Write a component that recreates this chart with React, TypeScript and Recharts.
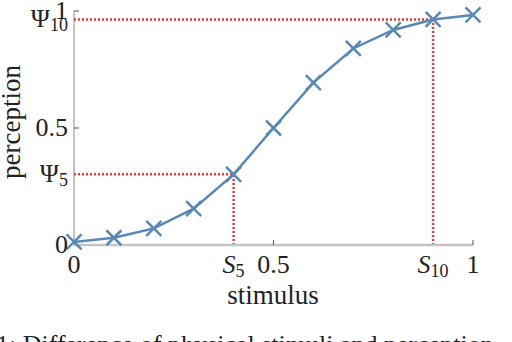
import * as React from "react";
import { LineChart, Line, XAxis, YAxis, ReferenceLine } from "recharts";

const stimulus = [0, 0.1, 0.2, 0.3, 0.4, 0.5, 0.6, 0.7, 0.8, 0.9, 1];
const perception = [0.013, 0.031, 0.071, 0.155, 0.302, 0.5, 0.694, 0.84, 0.919, 0.964, 0.983];

// marked samples: S5 / Psi5 and S10 / Psi10
const markIdx = [4, 9];

const xTicks = [0, stimulus[4], 0.5, stimulus[9], 1];
const xTickLabels = ["0", "S|5", "0.5", "S|10", "1"];
const yTicks = [0, perception[4], 0.5, perception[9], 1];
const yTickLabels = ["0", "Ψ|5", "0.5", "Ψ|10", "1"];

const FONT = "'Liberation Serif', 'Times New Roman', serif";
const LINE = "#5a88b4";
const RED = "#e8393f";
const TXT = "#222";

const rows = stimulus.map((s, i) => ({ s, p: perception[i] }));

function Label({ text, italic }: { text: string; italic?: boolean }) {
  const [main, sub] = text.split("|");
  return (
    <>
      <tspan fontStyle={italic ? "italic" : "normal"}>{main}</tspan>
      {sub && (
        <tspan dy={4} fontSize={18}>
          {sub}
        </tspan>
      )}
    </>
  );
}

function XTick(props: any) {
  const { x, y, payload, index } = props;
  const label = xTickLabels[index] ?? String(payload.value);
  const isNum = !label.includes("|");
  return (
    <g>
      {isNum && payload.value !== 0 && (
        <line x1={x} x2={x} y1={y} y2={y - 5} stroke="#555" strokeWidth={1} />
      )}
      <text
        x={x}
        y={y + 28}
        textAnchor="middle"
        fontFamily={FONT}
        fontSize={26}
        fill={TXT}
      >
        <Label text={label} italic={!isNum} />
      </text>
    </g>
  );
}

function YTick(props: any) {
  const { x, y, payload, index } = props;
  const label = yTickLabels[index] ?? String(payload.value);
  const isNum = !label.includes("|");
  return (
    <g>
      {isNum && payload.value !== 0 && (
        <line x1={x + 6} x2={x + 11} y1={y} y2={y} stroke="#555" strokeWidth={1} />
      )}
      <text
        x={x}
        y={y + 8}
        textAnchor="end"
        fontFamily={FONT}
        fontSize={26}
        fill={TXT}
      >
        <Label text={label} />
      </text>
    </g>
  );
}

function Cross(props: any) {
  const { cx, cy } = props;
  if (cx == null || cy == null) return null;
  const r = 7.5;
  return (
    <g stroke={LINE} strokeWidth={2.5}>
      <line x1={cx - r} y1={cy - r} x2={cx + r} y2={cy + r} />
      <line x1={cx - r} y1={cy + r} x2={cx + r} y2={cy - r} />
    </g>
  );
}

export default function App() {
  return (
    <div style={{ position: "fixed", left: 0, top: 0, width: 512, height: 342, background: "#fff", overflow: "hidden" }}>
      <LineChart
        width={512}
        height={342}
        data={rows}
        margin={{ top: 11, right: 39, bottom: 0, left: 0 }}
      >
        <XAxis
          dataKey="s"
          type="number"
          domain={[0, 1]}
          ticks={xTicks}
          interval={0}
          height={97}
          tickSize={0}
          tickMargin={0}
          tickLine={false}
          axisLine={{ stroke: "#c4c4c4", strokeWidth: 2.5 }}
          tick={<XTick />}
        />
        <YAxis
          dataKey="p"
          type="number"
          domain={[0, 1]}
          ticks={yTicks}
          interval={0}
          width={74}
          tickSize={0}
          tickMargin={6}
          tickLine={false}
          axisLine={{ stroke: "#8a8a8a", strokeWidth: 1 }}
          tick={<YTick />}
        />
        {markIdx.map((i) => (
          <ReferenceLine
            key={"h" + i}
            segment={[
              { x: 0, y: perception[i] },
              { x: stimulus[i], y: perception[i] },
            ]}
            stroke={RED}
            strokeWidth={2.5}
            strokeDasharray="2 2"
            ifOverflow="visible"
          />
        ))}
        {markIdx.map((i) => (
          <ReferenceLine
            key={"v" + i}
            segment={[
              { x: stimulus[i], y: 0 },
              { x: stimulus[i], y: perception[i] },
            ]}
            stroke={RED}
            strokeWidth={2.5}
            strokeDasharray="2 2"
            ifOverflow="visible"
          />
        ))}
        <Line
          dataKey="p"
          stroke={LINE}
          strokeWidth={2.5}
          dot={<Cross />}
          activeDot={false}
          isAnimationActive={false}
        />
      </LineChart>
      <svg
        width={512}
        height={342}
        style={{ position: "absolute", left: 0, top: 0, pointerEvents: "none" }}
      >
        <text x={273} y={304} textAnchor="middle" fontFamily={FONT} fontSize={27} fill={TXT}>
          stimulus
        </text>
        <text
          x={20}
          y={122}
          transform="rotate(-90 20 122)"
          textAnchor="middle"
          fontFamily={FONT}
          fontSize={27}
          fill={TXT}
        >
          perception
        </text>
        <text x={-4} y={353} fontFamily={FONT} fontSize={26} fill={TXT}>
          1: Difference of physical stimuli and perception
        </text>
      </svg>
    </div>
  );
}
